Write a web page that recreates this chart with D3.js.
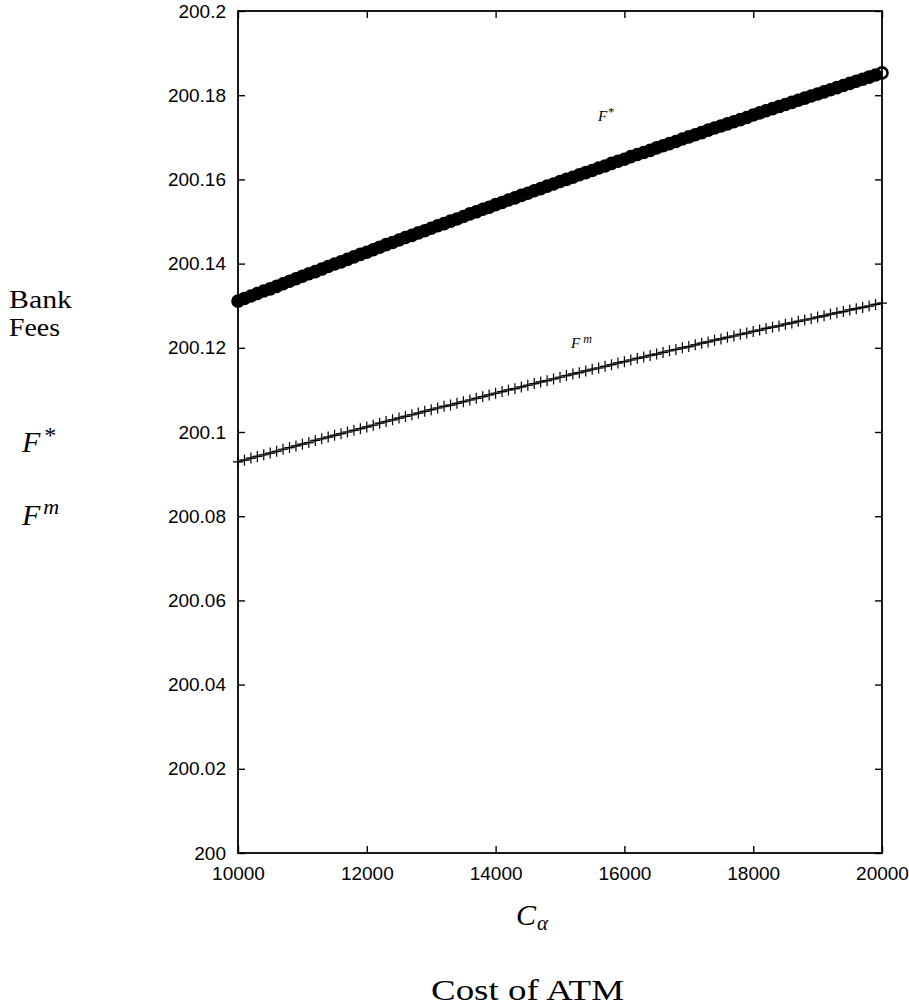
<!DOCTYPE html>
<html>
<head>
<meta charset="utf-8">
<script src="https://cdn.jsdelivr.net/npm/d3@7"></script>
<style>
  body { margin: 0; background: white; }
</style>
</head>
<body>
<script>
// cost of ATM (x categories)
const costATM = [
  10000, 10100, 10200, 10300, 10400, 10500, 10600, 10700, 10800, 10900,
  11000, 11100, 11200, 11300, 11400, 11500, 11600, 11700, 11800, 11900,
  12000, 12100, 12200, 12300, 12400, 12500, 12600, 12700, 12800, 12900,
  13000, 13100, 13200, 13300, 13400, 13500, 13600, 13700, 13800, 13900,
  14000, 14100, 14200, 14300, 14400, 14500, 14600, 14700, 14800, 14900,
  15000, 15100, 15200, 15300, 15400, 15500, 15600, 15700, 15800, 15900,
  16000, 16100, 16200, 16300, 16400, 16500, 16600, 16700, 16800, 16900,
  17000, 17100, 17200, 17300, 17400, 17500, 17600, 17700, 17800, 17900,
  18000, 18100, 18200, 18300, 18400, 18500, 18600, 18700, 18800, 18900,
  19000, 19100, 19200, 19300, 19400, 19500, 19600, 19700, 19800, 19900,
  20000
];

// F* bank fees (circles)
const feeStar = [
  200.1311, 200.1317, 200.1323, 200.1329, 200.1335, 200.1340, 200.1346, 200.1352, 200.1358, 200.1364,
  200.1370, 200.1376, 200.1381, 200.1387, 200.1393, 200.1399, 200.1404, 200.1410, 200.1416, 200.1422,
  200.1427, 200.1433, 200.1439, 200.1445, 200.1450, 200.1456, 200.1462, 200.1467, 200.1473, 200.1478,
  200.1484, 200.1490, 200.1495, 200.1501, 200.1506, 200.1512, 200.1518, 200.1523, 200.1529, 200.1534,
  200.1540, 200.1545, 200.1551, 200.1556, 200.1562, 200.1567, 200.1573, 200.1578, 200.1584, 200.1589,
  200.1595, 200.1600, 200.1605, 200.1611, 200.1616, 200.1621, 200.1627, 200.1632, 200.1638, 200.1643,
  200.1648, 200.1654, 200.1659, 200.1664, 200.1669, 200.1675, 200.1680, 200.1685, 200.1690, 200.1696,
  200.1701, 200.1706, 200.1711, 200.1717, 200.1722, 200.1727, 200.1732, 200.1737, 200.1742, 200.1747,
  200.1753, 200.1758, 200.1763, 200.1768, 200.1773, 200.1778, 200.1783, 200.1788, 200.1793, 200.1798,
  200.1803, 200.1808, 200.1813, 200.1818, 200.1823, 200.1828, 200.1833, 200.1838, 200.1843, 200.1848,
  200.1853
];

// F^m bank fees (pluses)
const feeM = [
  200.0929, 200.0933, 200.0938, 200.0942, 200.0946, 200.0950, 200.0954, 200.0959, 200.0963, 200.0967,
  200.0971, 200.0975, 200.0980, 200.0984, 200.0988, 200.0992, 200.0996, 200.1000, 200.1004, 200.1008,
  200.1012, 200.1016, 200.1021, 200.1025, 200.1029, 200.1033, 200.1037, 200.1041, 200.1045, 200.1049,
  200.1053, 200.1057, 200.1061, 200.1064, 200.1068, 200.1072, 200.1076, 200.1080, 200.1084, 200.1088,
  200.1092, 200.1096, 200.1100, 200.1103, 200.1107, 200.1111, 200.1115, 200.1119, 200.1122, 200.1126,
  200.1130, 200.1134, 200.1138, 200.1141, 200.1145, 200.1149, 200.1152, 200.1156, 200.1160, 200.1164,
  200.1167, 200.1171, 200.1175, 200.1178, 200.1182, 200.1185, 200.1189, 200.1193, 200.1196, 200.1200,
  200.1203, 200.1207, 200.1211, 200.1214, 200.1218, 200.1221, 200.1225, 200.1228, 200.1232, 200.1235,
  200.1239, 200.1242, 200.1246, 200.1249, 200.1252, 200.1256, 200.1259, 200.1263, 200.1266, 200.1269,
  200.1273, 200.1276, 200.1280, 200.1283, 200.1286, 200.1290, 200.1293, 200.1296, 200.1299, 200.1303,
  200.1306
];

const xTicks = [10000, 12000, 14000, 16000, 18000, 20000];
const xTickLabels = ["10000", "12000", "14000", "16000", "18000", "20000"];
const yTicks = [200, 200.02, 200.04, 200.06, 200.08, 200.1, 200.12, 200.14, 200.16, 200.18, 200.2];
const yTickLabels = ["200", "200.02", "200.04", "200.06", "200.08", "200.1", "200.12", "200.14", "200.16", "200.18", "200.2"];

const W = 909, H = 1008;
const plotL = 238, plotR = 882, plotT = 11, plotB = 853;
const serif = "'Liberation Serif', 'DejaVu Serif', serif";
const sans = "'Liberation Sans', Arial, sans-serif";

const svg = d3.select("body").append("svg")
  .attr("width", W)
  .attr("height", H)
  .style("background", "white");

const x = d3.scaleLinear().domain([10000, 20000]).range([plotL, plotR]);
const y = d3.scaleLinear().domain([200, 200.2]).range([plotB, plotT]);

// axes, ticks pointing inwards on all four sides
function styleAxis(g) {
  g.select(".domain").remove();
  g.selectAll(".tick line").attr("stroke", "black").attr("stroke-width", 1.4);
  g.selectAll(".tick text").attr("font-family", sans).attr("font-size", "19px").attr("fill", "black");
}

svg.append("g")
  .attr("transform", `translate(0,${plotB})`)
  .call(d3.axisBottom(x).tickValues(xTicks).tickFormat((d, i) => xTickLabels[i]).tickSize(-7).tickPadding(14))
  .call(styleAxis);

svg.append("g")
  .attr("transform", `translate(0,${plotT})`)
  .call(d3.axisTop(x).tickValues(xTicks).tickFormat("").tickSize(-7))
  .call(styleAxis);

svg.append("g")
  .attr("transform", `translate(${plotL},0)`)
  .call(d3.axisLeft(y).tickValues(yTicks).tickFormat((d, i) => yTickLabels[i]).tickSize(-7).tickPadding(12))
  .call(styleAxis);

svg.append("g")
  .attr("transform", `translate(${plotR},0)`)
  .call(d3.axisRight(y).tickValues(yTicks).tickFormat("").tickSize(-7))
  .call(styleAxis);

svg.append("rect")
  .attr("x", plotL)
  .attr("y", plotT)
  .attr("width", plotR - plotL)
  .attr("height", plotB - plotT)
  .attr("fill", "none")
  .attr("stroke", "black")
  .attr("stroke-width", 1.8);

// F^m series: grey line with plus marks
const mData = costATM.map((c, i) => ({c: c, v: feeM[i]}));
svg.append("path")
  .datum(mData)
  .attr("fill", "none")
  .attr("stroke", "#7a7a7a")
  .attr("stroke-width", 2.8)
  .attr("d", d3.line().x(d => x(d.c)).y(d => y(d.v)));

svg.selectAll(".plus")
  .data(mData)
  .enter()
  .append("path")
  .attr("class", "plus")
  .attr("fill", "none")
  .attr("stroke", "black")
  .attr("stroke-width", 1.2)
  .attr("d", d => {
    const px = x(d.c), py = y(d.v);
    return `M${px - 5},${py}H${px + 5}M${px},${py - 5.5}V${py + 5.5}`;
  });

// F* series: circles overlapping into a solid band, last one left open
const sData = costATM.map((c, i) => ({c: c, v: feeStar[i]}));
const lastIdx = sData.length - 1;
svg.selectAll(".circ")
  .data(sData)
  .enter()
  .append("circle")
  .attr("class", "circ")
  .attr("cx", d => x(d.c))
  .attr("cy", d => y(d.v))
  .attr("r", 5.5)
  .attr("fill", (d, i) => i === lastIdx ? "none" : "black")
  .attr("stroke", "black")
  .attr("stroke-width", 2.6);

// small curve labels inside the plot
const lblStar = svg.append("text")
  .attr("x", 598).attr("y", 121)
  .attr("font-family", serif).attr("font-style", "italic").attr("font-size", "15px");
lblStar.append("tspan").text("F");
lblStar.append("tspan").attr("dx", 1).attr("dy", -5).attr("font-size", "12px").attr("font-style", "normal").text("*");

const lblM = svg.append("text")
  .attr("x", 571).attr("y", 348)
  .attr("font-family", serif).attr("font-style", "italic").attr("font-size", "15px");
lblM.append("tspan").text("F");
lblM.append("tspan").attr("dx", 3).attr("dy", -5).attr("font-size", "12px").text("m");

// left side labels
svg.append("text")
  .attr("x", 9).attr("y", 308)
  .attr("font-family", serif).attr("font-size", "26px")
  .attr("textLength", 63).attr("lengthAdjust", "spacingAndGlyphs")
  .text("Bank");
svg.append("text")
  .attr("x", 9).attr("y", 336)
  .attr("font-family", serif).attr("font-size", "26px")
  .attr("textLength", 51).attr("lengthAdjust", "spacingAndGlyphs")
  .text("Fees");

const legStar = svg.append("text")
  .attr("x", 22).attr("y", 452)
  .attr("font-family", serif).attr("font-style", "italic").attr("font-size", "30px");
legStar.append("tspan").text("F");
legStar.append("tspan").attr("dx", 4).attr("dy", -9).attr("font-size", "24px").attr("font-style", "normal").text("*");

const legM = svg.append("text")
  .attr("x", 22).attr("y", 525)
  .attr("font-family", serif).attr("font-style", "italic").attr("font-size", "30px");
legM.append("tspan").text("F");
legM.append("tspan").attr("dx", 3).attr("dy", -11).attr("font-size", "22px").text("m");

// x axis labels
const cAlpha = svg.append("text")
  .attr("x", 516).attr("y", 925)
  .attr("font-family", serif).attr("font-style", "italic").attr("font-size", "30px");
cAlpha.append("tspan").text("C");
cAlpha.append("tspan").attr("dx", 1).attr("dy", 5).attr("font-size", "21px").text("α");

svg.append("text")
  .attr("x", 431).attr("y", 1000)
  .attr("font-family", serif).attr("font-size", "30px")
  .attr("textLength", 193).attr("lengthAdjust", "spacingAndGlyphs")
  .text("Cost of ATM");
</script>
</body>
</html>
